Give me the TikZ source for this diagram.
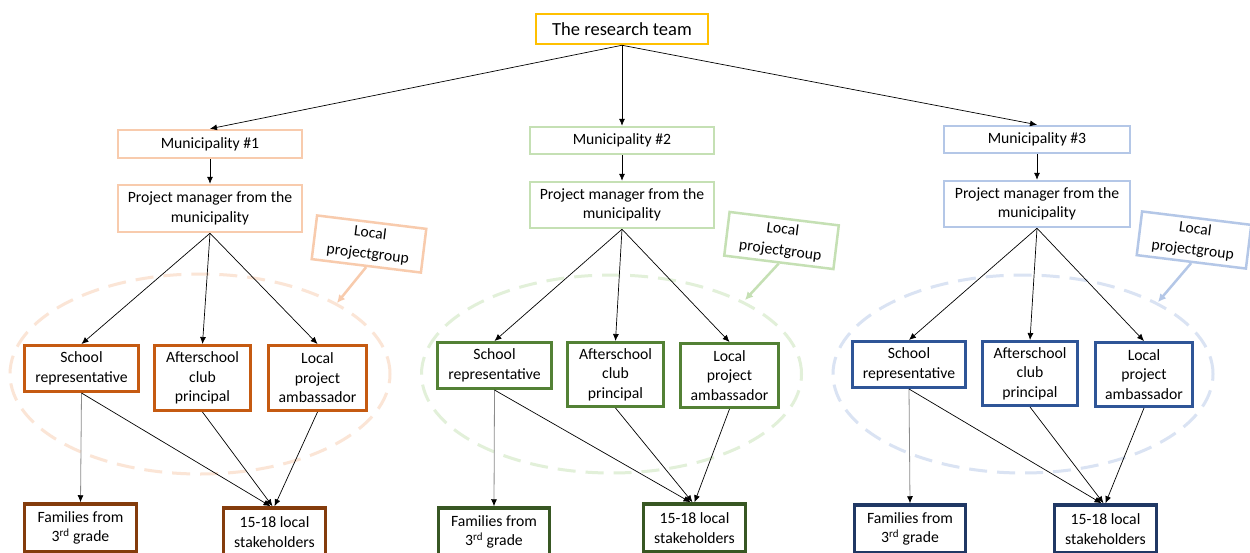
\documentclass[tikz,border=0pt]{standalone}
\usepackage{fontspec}
\setmainfont{Carlito}
\usetikzlibrary{arrows.meta,shapes.geometric,calc}
\definecolor{gold}{HTML}{FFC000}
\definecolor{orL}{HTML}{F8CBAD}
\definecolor{orD}{HTML}{C55A11}
\definecolor{orB}{HTML}{843C0C}
\definecolor{orE}{HTML}{FBE5D6}
\definecolor{grL}{HTML}{C5E0B4}
\definecolor{grD}{HTML}{538135}
\definecolor{grB}{HTML}{385723}
\definecolor{grE}{HTML}{E2F0D9}
\definecolor{blL}{HTML}{B4C7E7}
\definecolor{blD}{HTML}{2F5597}
\definecolor{blB}{HTML}{203864}
\definecolor{blE}{HTML}{DAE3F3}
\tikzset{
  box/.style={draw, fill=white, inner sep=0pt, align=center, font=\fontsize{15.7}{19.5}\selectfont},
  topbox/.style={box, line width=2.5pt, draw=gold, font=\fontsize{18.5}{22}\selectfont},
  lightbox/.style={box, line width=2.5pt},
  darkbox/.style={box, line width=3pt},
  botbox/.style={box, line width=3.5pt},
  callout/.style={box, line width=2.5pt, rotate=-7, font=\fontsize{15.7}{21}\selectfont},
  groupring/.style={ellipse, inner sep=0pt, line width=3pt, dash pattern=on 18pt off 10pt},
  conn/.style={-{Latex[length=7pt,width=6pt]}, line width=0.7pt},
  grayconn/.style={-{Latex[length=7pt,width=6pt,color=black]}, line width=0.8pt, draw=black!45},
  callarrow/.style={-{Latex[length=8pt,width=8pt]}, line width=2.5pt},
}
\begin{document}
\begin{tikzpicture}[x=1pt,y=-1pt]
\path[use as bounding box] (0,0) rectangle (1250,552);
\clip (0,0) rectangle (1250,552);
\fill[white] (0,0) rectangle (1250,552);

% group rings
\node[groupring, draw=orE, minimum width=380, minimum height=200] (e1) at (200,374) {};
\node[groupring, draw=grE, minimum width=380, minimum height=198] (e2) at (611.5,374) {};
\node[groupring, draw=blE, minimum width=380, minimum height=198] (e3) at (1023,374) {};

% top
\node[topbox, minimum width=172, minimum height=30] (top) at (622,29) {The research team};

% group 1
\node[lightbox, draw=orL, minimum width=184, minimum height=28] (m1) at (210,144) {Municipality \#1};
\node[lightbox, draw=orL, minimum width=184, minimum height=47] (pm1) at (210,208.5) {Project manager from the\\municipality};
\node[callout, draw=orL, minimum width=110, minimum height=44] (c1) at (369,244) {Local\\projectgroup};
\node[darkbox, draw=orD, minimum width=114, minimum height=46] (s1) at (81.5,368.5) {School\\representative};
\node[darkbox, draw=orD, minimum width=96, minimum height=65] (a1) at (202.5,378) {Afterschool\\club\\principal};
\node[darkbox, draw=orD, minimum width=98, minimum height=65] (l1) at (317.5,378) {Local\\project\\ambassador};
\node[botbox, draw=orB, minimum width=112, minimum height=48] (f1) at (80.5,528) {Families from\\3\textsuperscript{rd} grade};
\node[botbox, draw=orB, minimum width=102, minimum height=48] (k1) at (274.5,532) {15-18 local\\stakeholders};
\coordinate (t1) at (337,303);

% group 2
\node[lightbox, draw=grL, minimum width=184, minimum height=27] (m2) at (622,140.5) {Municipality \#2};
\node[lightbox, draw=grL, minimum width=184, minimum height=46] (pm2) at (622,205) {Project manager from the\\municipality};
\node[callout, draw=grL, minimum width=110, minimum height=44] (c2) at (781.5,240.5) {Local\\projectgroup};
\node[darkbox, draw=grD, minimum width=114, minimum height=46] (s2) at (494.5,365.5) {School\\representative};
\node[darkbox, draw=grD, minimum width=96, minimum height=64] (a2) at (615.5,374.5) {Afterschool\\club\\principal};
\node[darkbox, draw=grD, minimum width=98, minimum height=64] (l2) at (729.5,375.5) {Local\\project\\ambassador};
\node[botbox, draw=grB, minimum width=111, minimum height=48] (f2) at (494,532) {Families from\\3\textsuperscript{rd} grade};
\node[botbox, draw=grB, minimum width=102, minimum height=48] (k2) at (694.5,528) {15-18 local\\stakeholders};
\coordinate (t2) at (745,300);

% group 3
\node[lightbox, draw=blL, minimum width=186, minimum height=27] (m3) at (1037,139.5) {Municipality \#3};
\node[lightbox, draw=blL, minimum width=186, minimum height=46] (pm3) at (1037,204) {Project manager from the\\municipality};
\node[callout, draw=blL, minimum width=110, minimum height=44] (c3) at (1194,240) {Local\\projectgroup};
\node[darkbox, draw=blD, minimum width=113, minimum height=46] (s3) at (909,364.5) {School\\representative};
\node[darkbox, draw=blD, minimum width=95, minimum height=64] (a3) at (1030,373.5) {Afterschool\\club\\principal};
\node[darkbox, draw=blD, minimum width=97, minimum height=64] (l3) at (1144,374.5) {Local\\project\\ambassador};
\node[botbox, draw=blB, minimum width=111, minimum height=48] (f3) at (910,529) {Families from\\3\textsuperscript{rd} grade};
\node[botbox, draw=blB, minimum width=102, minimum height=48] (k3) at (1105.5,529) {15-18 local\\stakeholders};
\coordinate (t3) at (1158,302);

% connectors from top
\draw[conn] (top.south) -- (m1.north);
\draw[conn] (top.south) -- (m2.north);
\draw[conn] (top.south) -- (m3.north);

% group connectors
\foreach \g in {1,2,3}{
  \draw[conn] (m\g.south) -- (pm\g.north);
  \draw[conn] (pm\g.south) -- (s\g.north);
  \draw[conn] (pm\g.south) -- (a\g.north);
  \draw[conn] (pm\g.south) -- (l\g.north);
  \draw[grayconn] (s\g.south) -- (f\g.north);
  \draw[conn] (s\g.south) -- ([xshift=-4pt]k\g.north);
  \draw[conn] (a\g.south) -- ([xshift=-2pt]k\g.north);
  \draw[conn] (l\g.south) -- ([xshift=0pt]k\g.north);
}

% callout pointers
\draw[callarrow, draw=orL] (c1.south) -- (t1);
\draw[callarrow, draw=grL] (c2.south) -- (t2);
\draw[callarrow, draw=blL] (c3.south) -- (t3);
\end{tikzpicture}
\end{document}
